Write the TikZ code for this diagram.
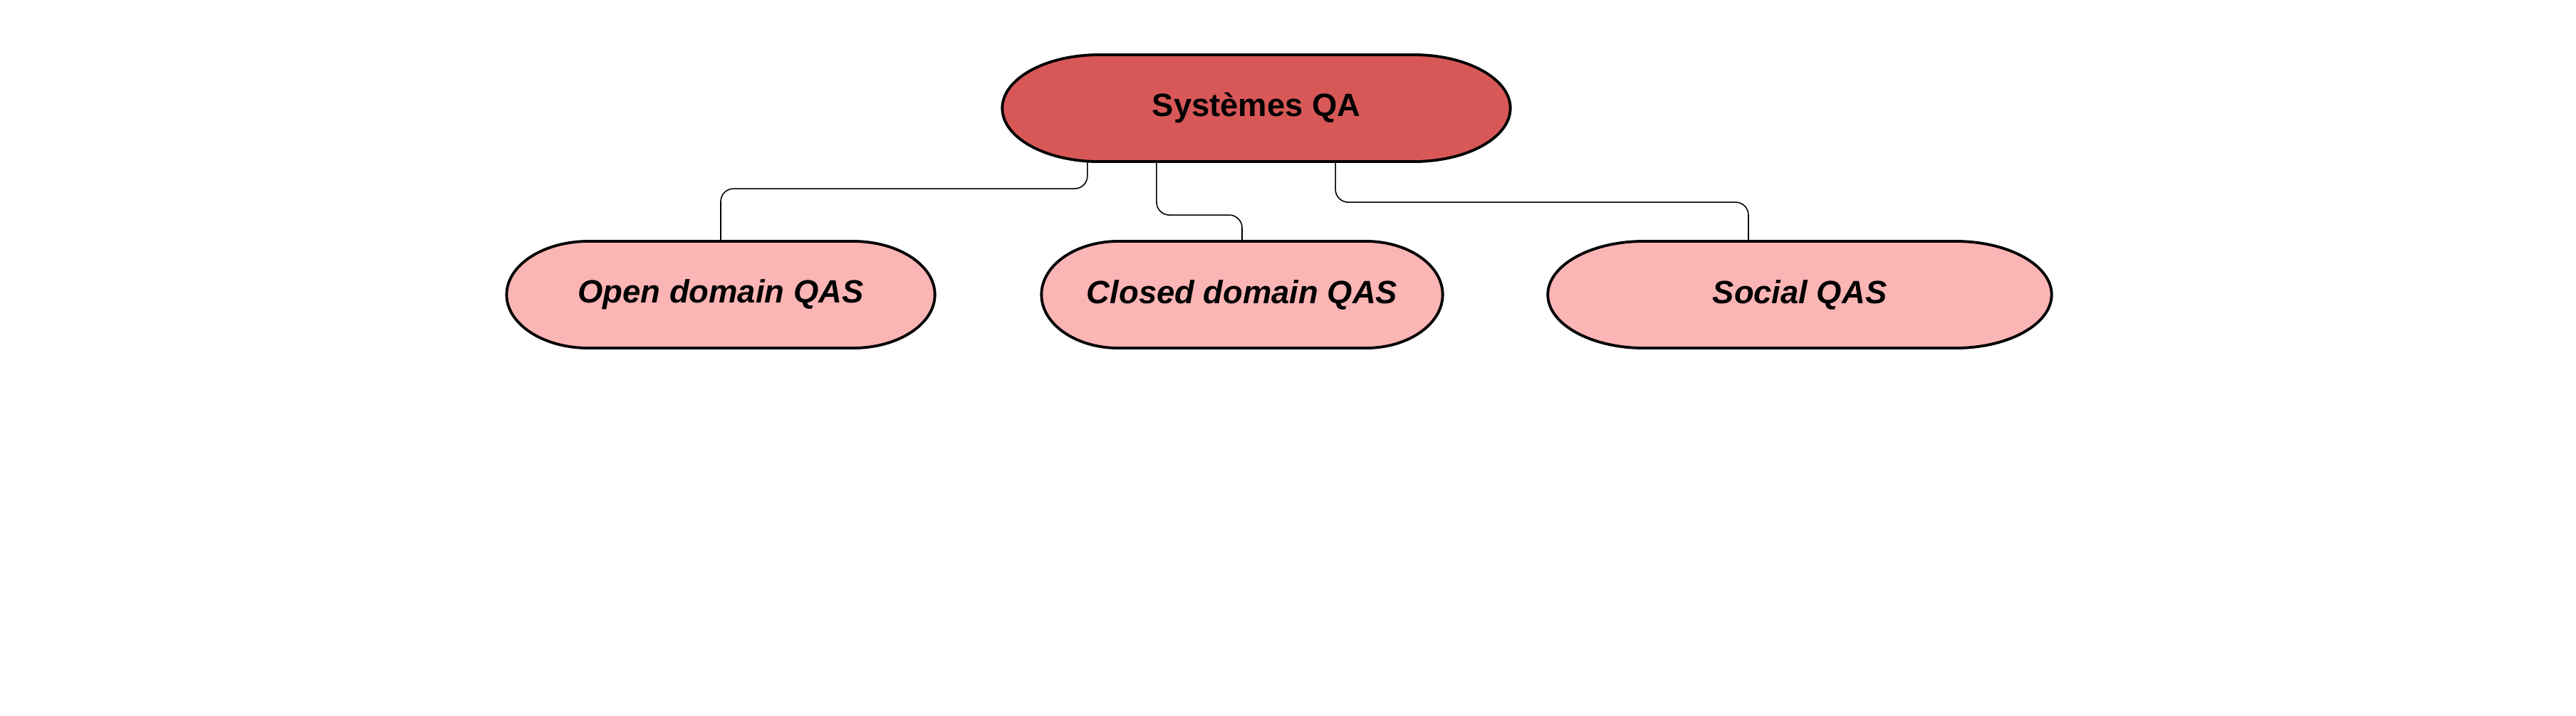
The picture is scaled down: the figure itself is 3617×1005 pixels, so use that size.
\documentclass[tikz,border=0pt]{standalone}
\usepackage{fontspec}
\setmainfont{Liberation Sans}
\usetikzlibrary{calc,positioning,backgrounds}

\definecolor{qadark}{HTML}{D85858}
\definecolor{qalight}{HTML}{FCB5B5}

% pill with elliptic ends drawn behind a node: node, x radius, fill
\newcommand{\pill}[3]{%
  \draw[line width=1.1pt, fill=#3] ([xshift=#2]#1.north west) -- ([xshift=-#2]#1.north east)
    arc[start angle=90, end angle=-90, x radius=#2, y radius=0.75cm]
    -- ([xshift=#2]#1.south west)
    arc[start angle=270, end angle=90, x radius=#2, y radius=0.75cm] -- cycle;}

\begin{document}
\begin{tikzpicture}[x=0.01cm, y=-0.01cm,
  qanode/.style={inner sep=0pt, outer sep=0pt, minimum height=1.5cm, font=\fontsize{12.9}{15}\selectfont\bfseries},
  qasub/.style={qanode, font=\fontsize{12.9}{15}\selectfont\bfseries\itshape},
  link/.style={line width=0.45pt, rounded corners=0.18cm}]
  \useasboundingbox (0,0) rectangle (3617,1005);

  \node[qanode, minimum width=7.13cm] (qa) at (1764,152) {Systèmes QA};
  \node[qasub, minimum width=6.01cm] (open) at (1012,414) {Open domain QAS};
  \node[qasub, minimum width=5.63cm] (closed) at (1744,414) {Closed domain QAS};
  \node[qasub, minimum width=7.07cm] (social) at (2527,414) {Social QAS};

  \begin{scope}[on background layer]
    \pill{qa}{1.36cm}{qadark}
    \pill{open}{1.15cm}{qalight}
    \pill{closed}{1.08cm}{qalight}
    \pill{social}{1.35cm}{qalight}
  \end{scope}

  \draw[link] ([xshift=-2.37cm]qa.south) -- ++(0,-0.38cm) -| (open.north);
  \draw[link] ([xshift=-1.40cm]qa.south) -- ++(0,-0.75cm) -| (closed.north);
  \draw[link] ([xshift=1.11cm]qa.south) -- ++(0,-0.57cm) -| ([xshift=-0.72cm]social.north);
\end{tikzpicture}
\end{document}
